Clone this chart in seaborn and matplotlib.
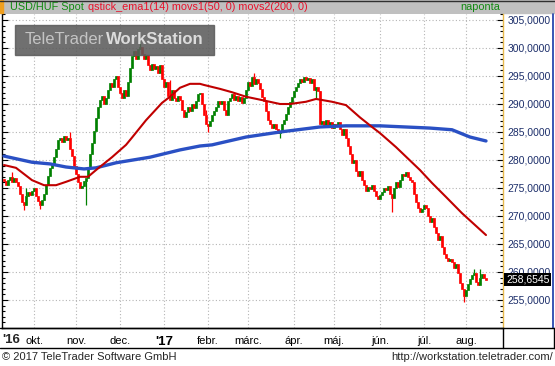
import matplotlib
matplotlib.use("Agg")
import matplotlib.pyplot as plt
import matplotlib.ticker as mticker
import matplotlib.transforms as mtransforms
from matplotlib.patches import Rectangle
from matplotlib.lines import Line2D
import seaborn as sns
import pandas as pd

# USD/HUF daily closes (one value per trading day)
first_session = "2016-09-12"
open_first = 276.6
close = [
    276.2, 275.6, 276.5, 277.0, 276.1, 276.8, 276.0, 275.3, 274.0, 272.5,
    272.0, 273.5, 274.2, 273.8, 274.5, 275.0, 273.5, 272.6, 272.0, 272.8,
    274.0, 275.5, 277.2, 278.5, 279.3, 280.5, 282.0, 283.5, 284.0, 283.2,
    284.2, 283.5, 284.0, 282.0, 280.8, 279.0, 277.5, 276.0, 275.0, 275.3,
    276.2, 276.8, 278.5, 281.0, 283.0, 285.2, 287.5, 289.5, 290.8, 291.5,
    290.0, 291.0, 292.5, 293.8, 293.0, 294.5, 295.0, 293.0, 292.0, 291.0,
    292.5, 291.5, 294.0, 296.5, 298.5, 299.5, 298.0, 299.8, 300.2, 299.0,
    298.0, 298.8, 297.0, 296.0, 297.2, 296.3, 296.8, 295.5, 297.0, 294.5,
    293.0, 294.0, 291.5, 290.8, 292.5, 291.0, 290.5, 291.5, 290.8, 289.0,
    287.6, 288.5, 289.5, 288.8, 290.0, 289.2, 290.5, 291.8, 292.0, 290.0,
    288.0, 286.5, 286.0, 287.0, 288.0, 288.8, 289.5, 290.5, 290.0, 290.6,
    289.0, 288.0, 290.5, 291.0, 291.8, 290.8, 291.5, 290.5, 291.2, 290.2,
    291.0, 292.5, 294.0, 293.2, 294.8, 293.5, 294.5, 293.8, 292.6, 291.2,
    290.5, 288.8, 287.2, 286.5, 285.8, 286.5, 285.5, 284.8, 285.2, 286.5,
    287.2, 288.3, 289.5, 290.3, 291.2, 292.3, 293.0, 293.8, 294.5, 294.0,
    294.8, 294.3, 294.6, 293.8, 294.5, 292.5, 293.0, 292.3, 286.5, 287.0,
    286.2, 287.2, 286.0, 286.8, 285.8, 286.5, 286.0, 286.8, 285.5, 284.5,
    285.5, 284.0, 282.5, 281.0, 279.5, 280.0, 278.0, 277.2, 278.0, 276.5,
    275.5, 274.5, 275.2, 274.8, 275.5, 274.5, 273.5, 273.0, 273.8, 274.3,
    275.0, 274.6, 275.3, 274.0, 273.2, 275.0, 276.0, 275.2, 276.5, 277.5,
    277.2, 277.8, 277.0, 276.5, 276.0, 274.0, 272.5, 271.5, 270.8, 271.2,
    272.0, 271.5, 270.0, 269.0, 269.6, 268.0, 267.0, 265.8, 266.4, 264.5,
    263.2, 262.5, 262.0, 262.3, 261.7, 260.8, 261.5, 259.8, 258.0, 257.0,
    255.8, 256.8, 257.9, 258.8, 259.5, 259.8, 258.2, 257.6, 259.0, 259.6,
    259.0, 258.6545,
]

# notable shadows (trading day -> extreme)
wick_hi_day = [4, 11, 33, 68, 83, 101, 125, 158, 235, 238]
wick_hi_val = [277.8, 275.0, 285.0, 301.2, 294.3, 289.0, 295.5, 288.5, 260.5, 260.6]
wick_lo_day = [10, 18, 41, 102, 138, 156, 194, 230]
wick_lo_val = [271.0, 271.2, 272.0, 285.0, 284.0, 291.0, 270.7, 254.6]

# moving averages (trading day, value)
ma50_day = [0, 6, 14, 20, 26, 31, 38, 42, 46, 54, 61, 64, 71, 79, 83, 88, 93, 98, 100,
            108, 114, 121, 129, 138, 143, 151, 156, 164, 171, 178, 184, 188, 196, 208,
            214, 221, 229, 241]
ma50_val = [279.1, 278.6, 276.4, 275.5, 275.5, 276.1, 277.0, 277.0, 278.2, 280.5, 282.7,
            284.0, 287.1, 290.2, 291.3, 292.9, 293.6, 293.6, 293.4, 292.7, 292.1, 291.3,
            290.7, 290.0, 290.0, 290.4, 290.9, 290.4, 289.8, 287.6, 285.9, 284.8, 282.3,
            278.2, 275.9, 273.4, 270.5, 266.6]
ma200_day = [0, 14, 23, 31, 40, 46, 56, 73, 88, 98, 104, 121, 138, 158, 171, 188, 213,
             224, 233, 241]
ma200_val = [280.7, 279.6, 279.3, 278.75, 278.4, 278.6, 279.5, 280.5, 281.8, 282.5, 282.7,
             284.1, 285.0, 285.9, 286.1, 286.1, 285.7, 285.4, 284.1, 283.4]

month_names = ["okt.", "nov.", "dec.", "'17", "febr.", "márc.", "ápr.", "máj.", "jún.", "júl.", "aug."]
y_ticks = list(range(255, 306, 5))

sns.set_style("white")
plt.rcParams['font.family'] = ['Liberation Sans', 'DejaVu Sans']

W, H = 555, 366
fig = plt.figure(figsize=(W / 100, H / 100), dpi=100)


def fx(px):
    return px / W


def fy(py):
    return 1 - py / H


ax = fig.add_axes([fx(2), fy(328), fx(501), 314 / H])

dates = pd.bdate_range(first_session, periods=len(close))
day = list(range(len(close)))
opens = [open_first] + close[:-1]

colors = ['#008000' if c >= o else '#ff0000' for o, c in zip(opens, close)]
bottoms = [min(o, c) for o, c in zip(opens, close)]
heights = [max(abs(c - o), 0.2) for o, c in zip(opens, close)]
ax.bar(day, heights, bottom=bottoms, width=0.9, color=colors, edgecolor=colors,
       linewidth=0.5, zorder=3)

for d, v in zip(wick_hi_day, wick_hi_val):
    ax.vlines(d, max(opens[d], close[d]), v, color=colors[d], lw=0.9, zorder=3)
for d, v in zip(wick_lo_day, wick_lo_val):
    ax.vlines(d, v, min(opens[d], close[d]), color=colors[d], lw=0.9, zorder=3)

sns.lineplot(x=ma200_day, y=ma200_val, color='#2a50c4', lw=2.4, ax=ax, zorder=4)
sns.lineplot(x=ma50_day, y=ma50_val, color='#c00000', lw=1.5, ax=ax, zorder=5)

ax.set_xlim(-1, 249.5)
ax.set_ylim(250, 306.07)

month_pos = [i for i in range(1, len(dates)) if dates[i].month != dates[i - 1].month]
ax.set_xticks(month_pos)
ax.set_xticklabels(month_names, fontsize=8, color='black')
for lbl in ax.get_xticklabels():
    if lbl.get_text().startswith("'"):
        lbl.set_fontweight('bold')
        lbl.set_fontsize(9.5)
ax.tick_params(axis='x', length=0, pad=6)

ax.set_yticks(y_ticks)
ax.yaxis.set_minor_locator(mticker.MultipleLocator(1))
ax.yaxis.set_major_formatter(mticker.FuncFormatter(lambda v, p: f"{v:.4f}".replace('.', ',')))
ax.tick_params(axis='y', which='both', left=True, right=True, labelleft=False, labelright=True,
               direction='in', colors='black', labelcolor='#1c2e6a', labelsize=7.5, pad=3)
ax.tick_params(axis='y', which='major', length=4, width=0.8)
ax.tick_params(axis='y', which='minor', length=2, width=0.8)

ax.grid(True, color='#b4b4b4', linestyle=(0, (1, 2)), lw=0.8, zorder=0)
ax.set_axisbelow(True)

ax.spines['top'].set_visible(False)
ax.spines['left'].set_color('black')
ax.spines['bottom'].set_color('black')
ax.spines['right'].set_color('#e6b84c')
for s in ax.spines.values():
    s.set_linewidth(1)
ax.set_xlabel("")
ax.set_ylabel("")

# last value marker on the price scale (covers part of the 260 label, as in the original)
trans = mtransforms.blended_transform_factory(ax.transAxes, ax.transData)
ax.text(1 + 3 / 501, close[-1], f"{close[-1]:.4f}".replace('.', ','), transform=trans,
        ha='left', va='center', fontsize=7.5, color='white', zorder=10, clip_on=False,
        bbox=dict(boxstyle='square,pad=0.15', fc='black', ec='none'))

# header bar
fig.add_artist(Rectangle((0, fy(13)), 1, 13 / H, transform=fig.transFigure,
                         color='#c0c0c0', zorder=0))
fig.add_artist(Rectangle((0, fy(13)), fx(3), 13 / H, transform=fig.transFigure,
                         color='#f0a020', zorder=1))
fig.add_artist(Line2D([0, 1], [fy(0.5)] * 2, color='#303030', lw=1))
sym = fig.text(fx(10), fy(6.5), "USD/HUF Spot", color='#108a10', fontsize=7.8, va='center')
fig.canvas.draw()
sym_end = sym.get_window_extent().x1
fig.text((sym_end + 4) / W, fy(6.5), "qstick_ema1(14) movs1(50, 0) movs2(200, 0)",
         color='#e8102a', fontsize=7.8, va='center')
fig.text(fx(500), fy(6.5), "naponta", color='#108a10', fontsize=7.8, va='center', ha='right')

# watermark
fig.add_artist(Rectangle((fx(15), fy(55)), fx(199), 30 / H, transform=fig.transFigure,
                         color='#5c5c5c', alpha=0.88, zorder=20))
fig.text(fx(25), fy(40), "TeleTrader", color='#c4c4c4', fontsize=12, va='center', zorder=21)
fig.text(fx(106), fy(40), "WorkStation", color='#dcdcdc', fontsize=12, va='center',
         fontweight='bold', zorder=21)

# price scale frame and bottom bands
fig.add_artist(Line2D([fx(552.5)] * 2, [fy(14), fy(328)], color='#1838a8', lw=1.2))
fig.add_artist(Line2D([0, 1], [fy(328)] * 2, color='black', lw=1))
fig.add_artist(Line2D([0, 1], [fy(348)] * 2, color='black', lw=1))
fig.add_artist(Line2D([fx(503)] * 2, [fy(328), fy(348)], color='black', lw=1))
fig.add_artist(Line2D([fx(553.5)] * 2, [fy(328), fy(348)], color='black', lw=1))
fig.text(fx(2), fy(340), "'16", fontsize=9.5, fontweight='bold', va='center')

fig.text(fx(2), fy(357), "© 2017 TeleTrader Software GmbH", fontsize=8, va='center')
fig.text(fx(553), fy(357), "http://workstation.teletrader.com/", fontsize=8, va='center',
         ha='right')

fig.savefig("out.png", dpi=100)
